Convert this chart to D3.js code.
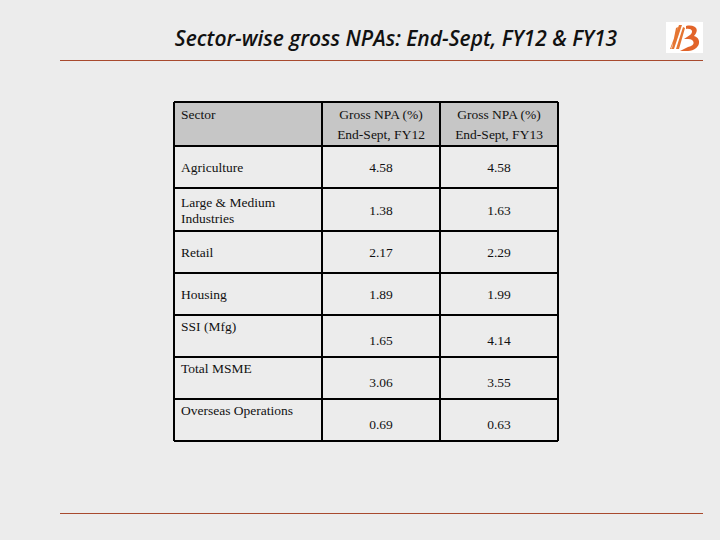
<!DOCTYPE html><html><head><meta charset="utf-8"><script src="https://d3js.org/d3.v7.min.js"></script>
<style>body{margin:0;background:#ececec}</style></head><body><svg id="c" width="720" height="540"></svg>
<script>
const title="Sector-wise gross NPAs: End-Sept, FY12 & FY13";
const headers=[["Sector"],["Gross NPA (%)","End-Sept, FY12"],["Gross NPA (%)","End-Sept, FY13"]];
const sectors=[["Agriculture"],["Large & Medium","Industries"],["Retail"],["Housing"],["SSI (Mfg)"],["Total MSME"],["Overseas Operations"]];
const labelTop=[false,false,false,false,true,true,true];
const fy12=["4.58","1.38","2.17","1.89","1.65","3.06","0.69"];
const fy13=["4.58","1.63","2.29","1.99","4.14","3.55","0.63"];

const svg=d3.select("#c");
svg.append("rect").attr("width",720).attr("height",540).attr("fill","#ececec");
svg.append("text").attr("x",396).attr("y",46).attr("text-anchor","middle")
 .attr("font-family","Open Sans").attr("font-style","italic").attr("font-weight","600").attr("font-size",21).attr("fill","#111").text(title);
svg.append("line").attr("x1",60).attr("x2",703).attr("y1",60.5).attr("y2",60.5).attr("stroke","#a84a2e").attr("stroke-width",1);
svg.append("line").attr("x1",60).attr("x2",703).attr("y1",513.5).attr("y2",513.5).attr("stroke","#a84a2e").attr("stroke-width",1);
// logo
const g=svg.append("g").attr("transform","translate(666,22)");
g.append("rect").attr("width",37).attr("height",31).attr("fill","#fff");
g.append("path").attr("d","M20 4 C30 2 34 8 28 14 C36 16 35 28 22 29 L14 29 L22 25 C30 24 29 17 22 17 L18 17 L24 13 C28 10 26 6 20 7 Z").attr("fill","#e2642a");
g.append("path").attr("d","M4 27 L13 3 L16 3 L8 27 Z M10 27 L17 5 L19 6 L13 27 Z M6 26 L10 6 L12 5 L5 27Z").attr("fill","#e57532");

const cols=[174,322,440,558];
const rowsY=[102,146,188,231,273,315,357,399,441];
const x=d3.scaleOrdinal().domain([0,1,2]).range(cols.slice(0,3));
const y=d3.scaleOrdinal().domain(d3.range(9)).range(rowsY);
const font="'Liberation Serif','DejaVu Serif',serif";
svg.append("rect").attr("x",174).attr("y",102).attr("width",384).attr("height",44).attr("fill","#c6c6c6");
headers.forEach((h,i)=>{
  const cx=i==0?181:(cols[i]+cols[i+1])/2;
  h.forEach((t,j)=>svg.append("text").attr("x",cx).attr("y",119+j*20).attr("text-anchor",i==0?"start":"middle")
   .attr("font-family",font).attr("font-size",13.5).attr("fill","#111").text(t));
});
sectors.forEach((s,i)=>{
  const y0=y(i+1),y1=y(i+2),mid=(y0+y1)/2;
  const n=s.length;
  s.forEach((t,j)=>{
    const ty=labelTop[i]?y0+16:mid+5-(n-1)*8+j*16;
    svg.append("text").attr("x",181).attr("y",ty).attr("font-family",font).attr("font-size",13.5).attr("fill","#111").text(t);
  });
  const vy=labelTop[i]?mid+9:mid+5;
  [fy12[i],fy13[i]].forEach((v,k)=>svg.append("text").attr("x",(cols[k+1]+cols[k+2])/2).attr("y",vy).attr("text-anchor","middle")
    .attr("font-family",font).attr("font-size",13.5).attr("fill","#111").text(v));
});
rowsY.forEach(yy=>svg.append("line").attr("x1",174).attr("x2",558).attr("y1",yy).attr("y2",yy).attr("stroke","#000").attr("stroke-width",2));
cols.forEach(xx=>svg.append("line").attr("x1",xx).attr("x2",xx).attr("y1",102).attr("y2",441).attr("stroke","#000").attr("stroke-width",2));
</script></body></html>
